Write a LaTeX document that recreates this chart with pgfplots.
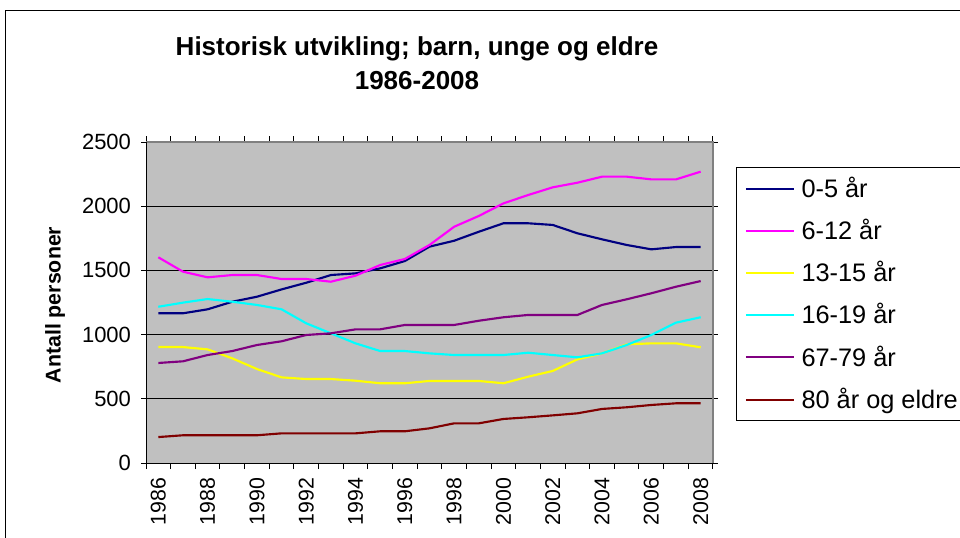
\documentclass[border=0pt]{standalone}
\usepackage{fontspec}
\setmainfont{Liberation Sans}
\usepackage{pgfplots}
\usepackage{pgfplotstable}
\pgfplotsset{compat=1.18}
\definecolor{plotgray}{HTML}{C0C0C0}
\definecolor{bordergray}{HTML}{808080}
\definecolor{cNavy}{HTML}{000080}
\definecolor{cPink}{HTML}{FF00FF}
\definecolor{cYellow}{HTML}{FFFF00}
\definecolor{cCyan}{HTML}{00FFFF}
\definecolor{cPurple}{HTML}{800080}
\definecolor{cRed}{HTML}{800000}
\pgfplotstableread{
year a b c d e f
1986 1166 1602 903 1217 779 202
1987 1166 1490 903 1249 792 216
1988 1197 1446 885 1277 841 216
1989 1256 1464 815 1256 872 216
1990 1295 1464 732 1231 919 216
1991 1352 1433 667 1197 948 231
1992 1404 1433 654 1088 997 231
1993 1464 1412 654 1010 1010 231
1994 1477 1459 641 932 1041 231
1995 1516 1542 621 872 1041 247
1996 1573 1589 621 872 1075 247
1997 1685 1698 639 854 1075 270
1998 1731 1840 639 841 1075 309
1999 1801 1924 639 841 1108 309
2000 1867 2022 621 841 1135 343
2001 1867 2087 672 859 1153 356
2002 1854 2147 717 841 1153 371
2003 1789 2183 807 823 1153 387
2004 1742 2230 854 854 1231 421
2005 1698 2230 924 919 1275 434
2006 1664 2209 932 997 1322 452
2007 1682 2209 932 1093 1373 465
2008 1682 2269 901 1135 1417 465
}\datatable
\begin{document}
\begin{tikzpicture}
\begin{scope}[x=0.75pt,y=0.75pt]
\draw[line width=0.75pt] (5,-5) -- (5,526) -- (965,526);
\node[font=\bfseries\fontsize{19.5}{22}\selectfont, anchor=base] at (417,482) {Historisk utvikling; barn, unge og eldre};
\node[font=\bfseries\fontsize{19.5}{22}\selectfont, anchor=base] at (417,448) {1986-2008};
\node[font=\bfseries\fontsize{16}{18}\selectfont, rotate=90] at (55,232) {Antall personer};
\end{scope}
\begin{axis}[
  at={(109.5pt,55.5pt)}, anchor=south west,
  scale only axis, width=425.25pt, height=240.75pt,
  xmin=1985.5, xmax=2008.5, ymin=0, ymax=2500,
  axis background/.style={fill=plotgray},
  axis line style={draw=none},
  /pgf/number format/assume math mode=true,
  /pgf/number format/1000 sep={},
  xtick={1986,1988,...,2008},
  minor xtick={1985.5,1986.5,...,2008.5},
  ytick={0,500,...,2500},
  tick align=outside,
  major tick length=3.75pt,
  minor tick length=4.5pt,
  tick style={black, line width=0.75pt},
  major x tick style={draw=none},
  ymajorgrids,
  major grid style={black, line width=0.75pt},
  xticklabel style={rotate=90, anchor=east, font=\fontsize{16}{18}\selectfont},
  yticklabel style={font=\fontsize{16.5}{18}\selectfont},
  xticklabel shift=4pt,
  yticklabel shift=4pt,
  legend cell align=left,
  legend style={at={(1.0400,0.922)}, anchor=north west, draw=black, line width=0.75pt, fill=white,
    font=\fontsize{19}{21}\selectfont, inner xsep=6.5pt, inner ysep=5.5pt, row sep=10.6pt, column sep=3pt,
    nodes={text height=15pt, text depth=2pt, inner sep=2pt}},
  legend image code/.code={\draw[#1, line width=1.5pt] (0pt,0pt) -- (36pt,0pt);},
  after end axis/.code={
    \draw[bordergray, line width=1.5pt] (rel axis cs:0,1) -- (rel axis cs:1,1) -- (rel axis cs:1,0);
    \draw[black, line width=0.75pt] (rel axis cs:0,1) -- (rel axis cs:0,0) -- (rel axis cs:1,0);
  },
]
\addplot[cNavy, line width=1.6pt] table[x=year, y=a] {\datatable}; \addlegendentry{0-5 år}
\addplot[cPink, line width=1.6pt] table[x=year, y=b] {\datatable}; \addlegendentry{6-12 år}
\addplot[cYellow, line width=1.6pt] table[x=year, y=c] {\datatable}; \addlegendentry{13-15 år}
\addplot[cCyan, line width=1.6pt] table[x=year, y=d] {\datatable}; \addlegendentry{16-19 år}
\addplot[cPurple, line width=1.6pt] table[x=year, y=e] {\datatable}; \addlegendentry{67-79 år}
\addplot[cRed, line width=1.6pt] table[x=year, y=f] {\datatable}; \addlegendentry{80 år og eldre}
\end{axis}
\pgfresetboundingbox
\path[use as bounding box] (0pt,0pt) rectangle (720pt,402.75pt);
\end{tikzpicture}
\end{document}
